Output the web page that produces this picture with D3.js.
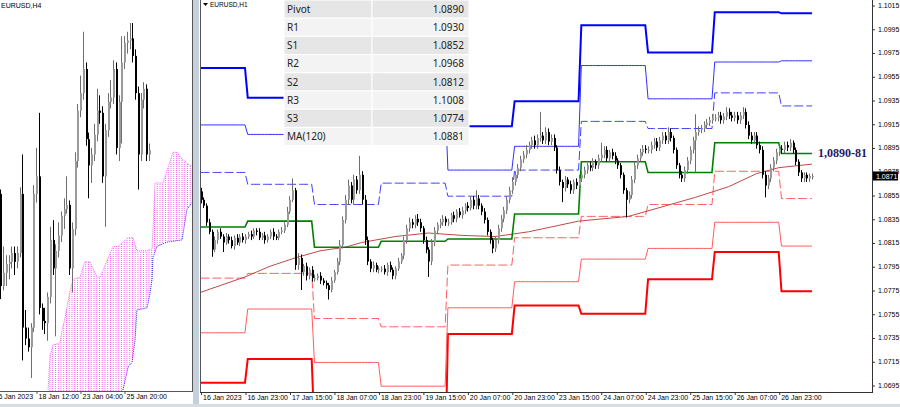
<!DOCTYPE html>
<html>
<head>
<meta charset="utf-8">
<script src="https://cdn.jsdelivr.net/npm/d3@7"></script>
<style>
  body { margin: 0; background: #fff; }
  svg { display: block; }
  text { font-family: "Liberation Sans Narrow", "Liberation Sans", Arial, sans-serif; }
</style>
</head>
<body>
<div id="chart"></div>
<script>
// ---- H1 candles (EURUSD), prices in pips (1/10000), bar 0 = 16 Jan 07:00
var firstOpen = 10858;
var closePips = [
  10851,10846,10832,10824,10809,10817,10824,10820,10815,10820,10817,10812,10819,10815,10820,10817,10820,
  10822,10820,10825,10824,10819,10821,10817,10820,10824,10820,10819,10824,10825,10830,10841,10851,10859,10796,10802,10790,10795,10787,10792,10785,
  10785,10787,10783,10781,10779,10775,10783,10790,10799,10813,10834,10851,10863,10851,10868,10859,10872,10851,10817,10799,10793,10796,10792,10793,
  10793,10790,10796,10792,10787,10793,10799,10804,10817,10827,10832,10830,10835,10832,10827,10817,10809,10799,10815,10825,10830,10832,10835,10832,
  10832,10838,10835,10841,10838,10842,10846,10844,10851,10846,10852,10846,10841,10834,10824,10817,10810,10817,10827,10835,10842,10851,10859,10866,
  10872,10878,10885,10889,10893,10897,10901,10897,10903,10905,10901,10908,10900,10903,10895,10876,10866,10861,10868,10864,10859,10866,10863,10869,
  10872,10876,10880,10878,10883,10880,10886,10889,10893,10886,10891,10888,10884,10880,10872,10859,10851,10855,10868,10880,10886,10891,10894,10893,
  10893,10897,10900,10895,10901,10905,10901,10908,10903,10893,10880,10872,10869,10876,10884,10893,10901,10908,10910,10911,10914,10916,10918,10920,
  10920,10922,10918,10921,10925,10922,10920,10922,10918,10922,10925,10914,10905,10901,10905,10897,10893,10872,10863,10869,10878,10884,10891,10894,
  10893,10897,10895,10899,10893,10883,10874,10869,10872,10869,10871,10871
];
// upper / lower shadow length of each bar, pips
var wickUp = [
  3,2,2,3,2,3,2,3,2,3,2,3,2,3,2,3,2,
  2,3,2,2,3,2,3,2,2,3,2,2,3,2,4,3,10,2,4,3,2,3,2,3,
  3,2,3,2,2,2,3,2,3,4,3,4,5,3,4,3,16,3,4,3,2,3,2,2,
  2,3,2,3,2,2,3,2,3,3,4,3,3,4,3,2,3,2,3,3,2,3,3,2,
  3,2,3,2,3,3,2,3,3,3,7,3,2,3,2,2,2,3,3,3,3,3,3,4,
  3,3,3,3,4,3,3,4,3,20,3,4,3,3,3,2,3,2,3,2,3,2,3,3,
  3,3,2,3,3,2,3,10,3,3,2,3,3,2,2,2,2,3,3,3,3,3,3,3,
  3,3,3,3,3,3,3,4,3,2,2,2,3,3,3,3,3,15,3,3,3,3,3,3,
  3,3,3,3,4,3,3,3,3,3,4,3,3,3,3,3,3,3,3,3,3,3,3,3,
  3,3,3,3,2,2,2,2,2,2,2,2
];
var wickDn = [
  3,2,3,2,6,2,3,2,8,2,3,2,3,2,3,2,3,
  2,3,2,3,2,2,3,2,2,3,2,2,2,2,2,2,2,4,4,15,3,4,3,3,
  3,2,3,2,3,8,2,2,2,3,3,3,4,3,4,3,3,4,4,3,3,3,2,3,
  3,2,3,2,3,3,2,2,3,3,3,3,3,3,3,3,3,13,3,3,3,3,3,3,
  3,2,3,3,2,3,3,3,2,3,3,3,3,3,3,3,4,3,3,3,3,3,3,3,
  3,3,3,3,3,3,3,3,3,3,3,3,3,3,3,3,3,12,3,3,3,3,3,3,
  3,3,3,3,3,3,3,3,3,3,3,3,3,3,3,3,15,3,3,3,3,3,3,3,
  3,3,3,3,3,3,3,3,3,3,3,3,3,3,3,3,3,27,3,3,3,3,3,3,
  3,3,3,3,3,3,3,3,3,3,3,3,3,3,3,3,3,3,10,3,3,3,3,3,
  3,3,3,3,3,3,3,3,3,3,3,3
];

// ---- daily pivot levels (one value per trading day)
var dayStart = [0, 17, 41, 65, 89, 113, 137, 161, 185, 209];
var lastBar = 220;
var levR3 = [1.0962,1.0937,1.0943,1.0987,1.0913,1.0934,1.0998,1.0975,1.1009,1.1008];
var levR2 = [1.0914,1.0906,1.0907,1.0938,1.0876,1.0896,1.0964,1.0936,1.0967,1.0968];
var levR1 = [1.0874,1.0864,1.0847,1.0865,1.0854,1.0876,1.0917,1.0911,1.0941,1.0930];
var levP  = [1.0828,1.0833,1.0811,1.0816,1.0818,1.0839,1.0883,1.0874,1.0899,1.0890];
var levS1 = [1.0785,1.0789,1.0751,1.0744,1.0796,1.0819,1.0837,1.0847,1.0875,1.0852];
var levS2 = [1.0739,1.0759,1.0714,1.0694,1.0760,1.0782,1.0801,1.0810,1.0832,1.0812];
var levS3 = [1.0697,1.0717,1.0655,1.0622,1.0738,1.0762,1.0755,1.0784,1.0807,1.0774];

// ---- MA(120) read at some bars
var maBar = [0,16,25,34,43,52,58,70,82,94,106,118,124,136,154,166,178,190,200,208,220];
var maVal = [1.0773,1.0786,1.0795,1.0802,1.0808,1.0811,1.0815,1.0820,1.0823,1.0821,1.0820,1.0824,1.0827,1.0833,1.0837,1.0845,1.0853,1.0862,1.0873,1.0878,1.0881];

// ---- Ichimoku cloud of the H4 panel (H4 bar index, price)
var spanABar = [17.9,19.4,20.1,21.2,23.7,24.5,25.5,27.4,28.5,31,32.8,34.6,37.2,38.3,43,44.8,48.5,50.3,51.7,55.4,57.2,58.3,61.2,64.8,66.3,68.1,71,72.8];
var spanA    = [1.0748,1.07615,1.0777,1.0782,1.0783,1.0789,1.0794,1.0807,1.0812,1.0813,1.0820,1.0820,1.0813,1.0813,1.0827,1.0827,1.0831,1.0831,1.0825,1.0825,1.0826,1.0856,1.0856,1.0870,1.0870,1.0867,1.0864,1.0864];
var spanBBar = [17.9,44.8,46.6,48.5,49.9,51,51.7,55.4,56.5,57.2,57.5,59,62.6,68.1,69.9,71.7,72.8];
var spanB    = [1.0740,1.0748,1.07615,1.0772,1.0774,1.0784,1.0798,1.0799,1.0806,1.0812,1.0822,1.0827,1.0829,1.0830,1.0844,1.0847,1.0848];

// ---- table and labels
var tableNames  = ["Pivot","R1","S1","R2","S2","R3","S3","MA(120)"];
var tableValues = ["1.0890","1.0930","1.0852","1.0968","1.0812","1.1008","1.0774","1.0881"];
var priceTicks = [1.0695,1.0715,1.0735,1.0755,1.0775,1.0795,1.0815,1.0835,1.0855,1.0875,1.0895,1.0915,1.0935,1.0955,1.0975,1.0995,1.1015];
var timeTickBar = [0,16,32,48,64,80,96,112,128,144,160,176,192,208];
var timeTickLab = ["16 Jan 2023","16 Jan 23:00","17 Jan 15:00","18 Jan 07:00","18 Jan 23:00","19 Jan 15:00","20 Jan 07:00",
                   "20 Jan 23:00","23 Jan 15:00","24 Jan 07:00","24 Jan 23:00","25 Jan 15:00","26 Jan 07:00","26 Jan 23:00"];
var h4TickBar = [-1, 15, 31, 47];
var h4TickLab = ["16 Jan 2023","18 Jan 12:00","23 Jan 04:00","25 Jan 20:00"];
var lastPrice = "1.0871";
var pivotTag = "1,0890-81";

function init() {
  var W = 900, H = 407;
  var svg = d3.select("#chart").append("svg").attr("width", W).attr("height", H);
  svg.append("rect").attr("width", W).attr("height", H).attr("fill", "#fff");

  // window frame bits
  svg.append("rect").attr("x", 193).attr("y", 0).attr("width", 6).attr("height", 404).attr("fill", "#c5d0dc");
  svg.append("rect").attr("x", 0).attr("y", 404).attr("width", W).attr("height", 3).attr("fill", "#d8dde4");

  var defs = svg.append("defs");
  defs.append("clipPath").attr("id", "clipR").append("rect")
    .attr("x", 201).attr("y", 0).attr("width", 671).attr("height", 392);
  defs.append("clipPath").attr("id", "clipL").append("rect")
    .attr("x", 0).attr("y", 0).attr("width", 192).attr("height", 391);
  var pat = defs.append("pattern").attr("id", "kumo").attr("patternUnits", "userSpaceOnUse")
    .attr("width", 2.75).attr("height", 2);
  pat.append("rect").attr("width", 1).attr("height", 1).attr("fill", "#f266f2");

  // build bars
  var h1 = closePips.map(function(c, i) {
    var o = i ? closePips[i - 1] : firstOpen;
    return { i: i, o: o / 1e4, c: c / 1e4,
             h: (Math.max(o, c) + wickUp[i]) / 1e4, l: (Math.min(o, c) - wickDn[i]) / 1e4 };
  });
  // H4 bars: bar j holds H1 bars 4j-7 .. 4j-4
  var h4 = d3.range(2, 57).map(function(j) {
    var s = h1.slice(4 * j - 7, 4 * j - 3);
    return { i: j, o: s[0].o, c: s[s.length - 1].c, h: d3.max(s, function(d){ return d.h; }), l: d3.min(s, function(d){ return d.l; }) };
  });

  function drawCandles(g, data, x, y) {
    var c = g.selectAll("g.cd").data(data).enter().append("g").attr("class", "cd");
    c.append("line")
      .attr("x1", function(d){ return Math.round(x(d.i)) + 0.5; })
      .attr("x2", function(d){ return Math.round(x(d.i)) + 0.5; })
      .attr("y1", function(d){ return y(d.h); })
      .attr("y2", function(d){ return y(d.l); })
      .attr("stroke", function(d){ return d.c >= d.o ? "#6e6e6e" : "#000"; })
      .attr("stroke-width", 1);
    c.append("rect")
      .attr("x", function(d){ return Math.round(x(d.i)); })
      .attr("width", 2)
      .attr("y", function(d){ return y(Math.max(d.o, d.c)); })
      .attr("height", function(d){ return Math.max(1, Math.abs(y(d.o) - y(d.c))); })
      .attr("fill", function(d){ return d.c >= d.o ? "#9a9a9a" : "#000"; });
  }

  // ================= left panel (H4) =================
  var xL = d3.scaleLinear().domain([0, 1]).range([-5.25, -2.5]);
  var yL = d3.scaleLinear().domain([1.0929, 1.07615]).range([23, 390]);
  var gl = svg.append("g").attr("clip-path", "url(#clipL)");

  var cloudPts = spanABar.map(function(b, k){ return [b, spanA[k]]; })
    .concat(spanBBar.map(function(b, k){ return [b, spanB[k]]; }).reverse());
  var lineL = d3.line().x(function(d){ return xL(d[0]); }).y(function(d){ return yL(d[1]); });
  gl.append("path").attr("d", lineL(cloudPts) + "Z").attr("fill", "url(#kumo)");
  gl.append("path").attr("d", lineL(spanABar.map(function(b, k){ return [b, spanA[k]]; })))
    .attr("fill", "none").attr("stroke", "#f266f2").attr("stroke-dasharray", "1,1");
  gl.append("path").attr("d", lineL(spanBBar.map(function(b, k){ return [b, spanB[k]]; })))
    .attr("fill", "none").attr("stroke", "#2020ff").attr("stroke-dasharray", "1,1");
  drawCandles(gl, h4, xL, yL);

  svg.append("line").attr("x1", 192.5).attr("x2", 192.5).attr("y1", 0).attr("y2", 391).attr("stroke", "#555");
  svg.append("line").attr("x1", 0).attr("x2", 193).attr("y1", 391.5).attr("y2", 391.5).attr("stroke", "#555");
  var axL = svg.append("g").attr("transform", "translate(0,391)")
    .call(d3.axisBottom(xL).tickValues(h4TickBar).tickFormat(function(d, i){ return h4TickLab[i]; }).tickSize(3).tickSizeOuter(0));
  axL.select(".domain").remove();
  axL.selectAll("line").attr("transform", "translate(0.5,0)").attr("stroke", "#555");
  axL.selectAll("text").attr("text-anchor", "start").attr("x", 2).attr("y", 3)
    .style("font-size", "7px").attr("fill", "#000");
  svg.append("text").attr("x", 1).attr("y", 8).text("EURUSD,H4").style("font-size", "7px").attr("fill", "#000");

  // ================= right panel (H1) =================
  var xR = d3.scaleLinear().domain([0, 208]).range([200.5, 778.7]);
  var yR = d3.scaleLinear().domain([1.0695, 1.1015]).range([385, 5]);
  var gr = svg.append("g").attr("clip-path", "url(#clipR)");

  function dayOf(i) { return d3.bisectRight(dayStart, i) - 1; }
  var lineR = d3.line().x(function(d){ return xR(d[0]); }).y(function(d){ return yR(d[1]); });
  function levelLine(lev, color, width, dash) {
    var pts = d3.range(0, lastBar + 1).map(function(i){ return [i, lev[dayOf(i)]]; });
    gr.append("path").attr("d", lineR(pts)).attr("fill", "none")
      .attr("stroke", color).attr("stroke-width", width)
      .attr("stroke-dasharray", dash || null);
  }
  levelLine(levS3, "#ff0000", 2);
  levelLine(levS2, "#ff5c5c", 1);
  levelLine(levS1, "#ff5c5c", 1, "9,3");
  levelLine(levR3, "#0000ff", 2);
  levelLine(levR2, "#3030ff", 1);
  levelLine(levR1, "#3f3fff", 1, "9,3");
  gr.append("path").attr("d", lineR(maBar.map(function(b, k){ return [b, maVal[k]]; })))
    .attr("fill", "none").attr("stroke", "#c04848").attr("stroke-width", 1);
  levelLine(levP, "#008000", 1.6);
  drawCandles(gr, h1, xR, yR);

  // table of today's levels
  var tb = svg.append("g");
  var rowH = 18.2, tx0 = 284, tx1 = 372, tx2 = 469;
  tableNames.forEach(function(n, k) {
    var y0 = k * rowH;
    tb.append("rect").attr("x", tx0).attr("y", y0).attr("width", tx1 - tx0).attr("height", rowH)
      .attr("fill", k % 2 ? "#f3f3f3" : "#e6e6e6").attr("stroke", "#fff");
    tb.append("rect").attr("x", tx1).attr("y", y0).attr("width", tx2 - tx1).attr("height", rowH)
      .attr("fill", k % 2 ? "#f3f3f3" : "#e6e6e6").attr("stroke", "#fff");
    tb.append("text").attr("x", tx0 + 3).attr("y", y0 + rowH / 2 + 3.6).text(n)
      .style("font-family", "'Noto Sans', 'Open Sans', sans-serif").style("font-size", "10px").attr("fill", "#222");
    tb.append("text").attr("x", tx2 - 5).attr("y", y0 + rowH / 2 + 3.6).text(tableValues[k]).attr("text-anchor", "end")
      .style("font-family", "'Noto Sans', 'Open Sans', sans-serif").style("font-size", "10px").attr("fill", "#222");
  });

  // frame + axes
  svg.append("line").attr("x1", 200.5).attr("x2", 200.5).attr("y1", 0).attr("y2", 392).attr("stroke", "#555");
  var axY = svg.append("g").attr("transform", "translate(872,0)")
    .call(d3.axisRight(yR).tickValues(priceTicks).tickFormat(d3.format(".4f")).tickSize(3).tickSizeOuter(0));
  axY.select(".domain").remove();
  axY.selectAll("line").attr("transform", "translate(0,0.5)").attr("stroke", "#333");
  axY.selectAll("text").style("font-size", "7px").attr("fill", "#000");
  svg.append("line").attr("x1", 872.5).attr("x2", 872.5).attr("y1", 0).attr("y2", 392).attr("stroke", "#333");
  svg.append("line").attr("x1", 200).attr("x2", 873).attr("y1", 392.5).attr("y2", 392.5).attr("stroke", "#333");

  var axX = svg.append("g").attr("transform", "translate(0,392)")
    .call(d3.axisBottom(xR).tickValues(timeTickBar).tickFormat(function(d, i){ return timeTickLab[i]; }).tickSize(3).tickSizeOuter(0));
  axX.select(".domain").remove();
  axX.selectAll("line").attr("transform", "translate(0.5,0)").attr("stroke", "#333");
  axX.selectAll("text").attr("text-anchor", "start").attr("x", 2).attr("y", 3)
    .style("font-size", "7px").attr("fill", "#000");

  // last price box
  var lp = yR(+lastPrice);
  svg.append("rect").attr("x", 873).attr("y", lp - 4.5).attr("width", 25).attr("height", 9).attr("fill", "#000");
  svg.append("text").attr("x", 876).attr("y", lp + 2.5).text(lastPrice).style("font-size", "7px").attr("fill", "#fff");

  // pivot tag
  svg.append("text").attr("x", 818).attr("y", yR(1.0890) + 4).text(pivotTag)
    .style("font-family", "'Liberation Serif', 'DejaVu Serif', serif").style("font-weight", "bold")
    .style("font-size", "12px").attr("fill", "#1a1a70");

  // chart caption
  svg.append("path").attr("d", "M203,3 L208,3 L205.5,6 Z").attr("fill", "#000");
  svg.append("text").attr("x", 210).attr("y", 7).text("EURUSD,H1").style("font-size", "6.5px").attr("fill", "#000");
}
window.onload = init;
</script>
</body>
</html>
